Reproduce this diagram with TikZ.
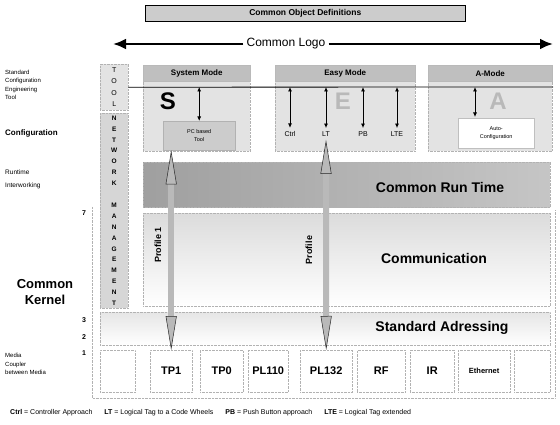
\documentclass[tikz,border=0pt]{standalone}
\usepackage{fontspec}
\setmainfont{Liberation Sans}
\usetikzlibrary{arrows.meta}

\tikzset{
  box/.style={draw=gray!60, densely dotted, anchor=north west, inner sep=0pt},
  modebox/.style={box, fill=gray!22},
  titlebar/.style={draw=gray!55, fill=gray!50, anchor=north west, inner sep=0pt,
    minimum height=16pt, font=\fontsize{8}{9}\selectfont\bfseries},
  slot/.style={box, fill=white, minimum height=42pt, font=\fontsize{11}{12}\selectfont\bfseries},
  layertext/.style={font=\fontsize{14}{16}\selectfont\bfseries},
  sidetext/.style={anchor=west, align=left, inner sep=0pt, font=\fontsize{6}{8.3}\selectfont},
  bigletter/.style={font=\fontsize{24}{26}\selectfont\bfseries},
  modearrow/.style={{Latex[length=4.5pt,width=4pt]}-{Latex[length=4.5pt,width=4pt]}, thick},
  profarrow/.style={line width=6pt, draw=gray!55,
    {Triangle[length=34pt,width=11pt,fill=gray!55,color=gray!30!black,line width=0.5pt]}-{Triangle[length=34pt,width=11pt,fill=gray!55,color=gray!30!black,line width=0.5pt]}},
  logoarrow/.style={line width=2.8pt, -{Latex[length=13pt,width=11pt]}},
}

\begin{document}
\begin{tikzpicture}[x=1pt,y=-1pt]
  \useasboundingbox (0,0) rectangle (560,425);

  % object definitions and logo
  \node[draw=black, semithick, fill=gray!40, anchor=north west, inner sep=0pt,
    minimum width=320pt, minimum height=16pt,
    font=\fontsize{8.5}{10}\selectfont\bfseries] (objdef) at (145,5) {Common Object Definitions};
  \node[font=\fontsize{12}{14}\selectfont, inner sep=3pt] (logo) at (286,44) {Common Logo};
  \coordinate (logoL) at (113,44);
  \coordinate (logoR) at (553,44);
  \draw[logoarrow] (logo) -- (logoL);
  \draw[logoarrow] (logo) -- (logoR);

  % left column
  \node[sidetext] (sce) at (5,85) {Standard\\Configuration\\Engineering\\Tool};
  \node[sidetext, font=\fontsize{8}{9}\selectfont\bfseries] (cfg) at (5,133) {Configuration};
  \node[sidetext, font=\fontsize{6.5}{13}\selectfont] (rti) at (5,179) {Runtime\\Interworking};
  \node[font=\fontsize{13}{16}\selectfont\bfseries, align=center] (kernel) at (45,292) {Common\\Kernel};
  \node[sidetext] (media) at (5,364) {Media\\Coupler\\between Media};
  \foreach \n/\y in {7/213, 3/320, 2/337, 1/353}
    \node[font=\fontsize{7}{8}\selectfont\bfseries] (lvl\n) at (84,\y) {\n};

  % outer frame
  \draw[gray!60, densely dotted] (92,207) |- (555,398) -- (555,210);

  % tool and network management
  \node[box, fill=gray!22, minimum width=28pt, minimum height=46pt, align=center,
    font=\fontsize{7}{11.3}\selectfont] (tool) at (100,64) {T\\O\\O\\L};
  \node[box, fill=gray!32, minimum width=28pt, minimum height=195pt, align=center,
    font=\fontsize{6.5}{10.9}\selectfont\bfseries] (netman) at (100,113)
    {N\\E\\T\\W\\O\\R\\K\\[10.9pt]M\\A\\N\\A\\G\\E\\M\\E\\N\\T};

  % modes
  \node[modebox, minimum width=107pt, minimum height=86pt] (sysmode) at (143,65) {};
  \node[titlebar, minimum width=107pt] (systitle) at (143,65) {System Mode};
  \node[modebox, minimum width=140pt, minimum height=86pt] (easymode) at (275,65) {};
  \node[titlebar, minimum width=140pt] (easytitle) at (275,65) {Easy Mode};
  \node[modebox, minimum width=124pt, minimum height=86pt] (amode) at (428,65) {};
  \node[titlebar, minimum width=124pt] (atitle) at (428,65) {A-Mode};

  % common line
  \coordinate (lineR) at (553,87);
  \draw[thick] (tool.east) -- (lineR);

  % system mode
  \node[bigletter] (bigS) at (168,101) {S};
  \node[draw=gray!60, fill=gray!40, anchor=north west, inner sep=0pt, minimum width=72pt,
    minimum height=29pt, align=center, font=\fontsize{5.5}{8}\selectfont] (pctool) at (163,121) {PC based\\Tool};
  \draw[modearrow] (pctool.north |- lineR) -- (pctool.north);

  % easy mode
  \node[bigletter, text=gray!55] (bigE) at (343,101) {E};
  \foreach \nm/\x/\t in {ctrl/290/Ctrl, lt/326/LT, pb/363/PB, lte/397/LTE} {
    \node[font=\fontsize{7}{8}\selectfont] (\nm) at (\x,134) {\t};
    \draw[modearrow] (\nm.north |- lineR) -- (\nm.north);
  }

  % a-mode
  \node[bigletter, text=gray!55] (bigA) at (498,101) {A};
  \node[draw=gray!50, fill=white, anchor=north west, inner sep=0pt, minimum width=76pt,
    minimum height=30pt, align=center, font=\fontsize{5.5}{8}\selectfont] (autocfg) at (458,118) {Auto-\\Configuration};
  \coordinate (aArr) at (475,117);
  \draw[modearrow] (aArr |- lineR) -- (aArr);

  % layers
  \node[box, left color=gray!75, right color=gray!45, minimum width=407pt, minimum height=45pt] (runtime) at (143,162) {};
  \node[layertext] (rtlabel) at (440,187) {Common Run Time};
  \node[box, top color=gray!28, bottom color=white, minimum width=407pt, minimum height=93pt] (comm) at (143,213) {};
  \node[layertext] (commlabel) at (434,258) {Communication};
  \node[box, top color=gray!20, bottom color=white, minimum width=450pt, minimum height=33pt] (stdaddr) at (100,312) {};
  \node[layertext] (stdlabel) at (442,328) {Standard Adressing};

  % media
  \foreach \nm/\x/\w/\t in {s0/100/35/{}, tp1/150/42/TP1, tp0/200/43/TP0, pl110/248/40/PL110,
      pl132/300/52/PL132, rf/357/48/RF, ir/410/44/IR, eth/458/52/{\fontsize{7.5}{9}\selectfont Ethernet}, s9/514/36/{}}
    \node[slot, minimum width=\w pt] (\nm) at (\x,350) {\t};

  % profiles
  \coordinate (p1top) at (pctool.south -| tp1.north);
  \draw[profarrow] (p1top) -- (tp1.north);
  \node[rotate=90, font=\fontsize{9}{10}\selectfont\bfseries] (prof1) at (158,245) {Profile 1};
  \draw[profarrow] (lt.south) -- (pl132.north);
  \node[rotate=90, font=\fontsize{9}{10}\selectfont\bfseries] (prof) at (309,250) {Profile};

  % legend
  \node[anchor=west, inner sep=0pt, font=\fontsize{7}{8}\selectfont] (legend) at (10,413)
    {\textbf{Ctrl} = Controller Approach\hspace{10pt} \textbf{LT} = Logical Tag to a Code Wheels\hspace{10pt}
     \textbf{PB} = Push Button approach\hspace{10pt} \textbf{LTE} = Logical Tag extended};

\end{tikzpicture}
\end{document}
